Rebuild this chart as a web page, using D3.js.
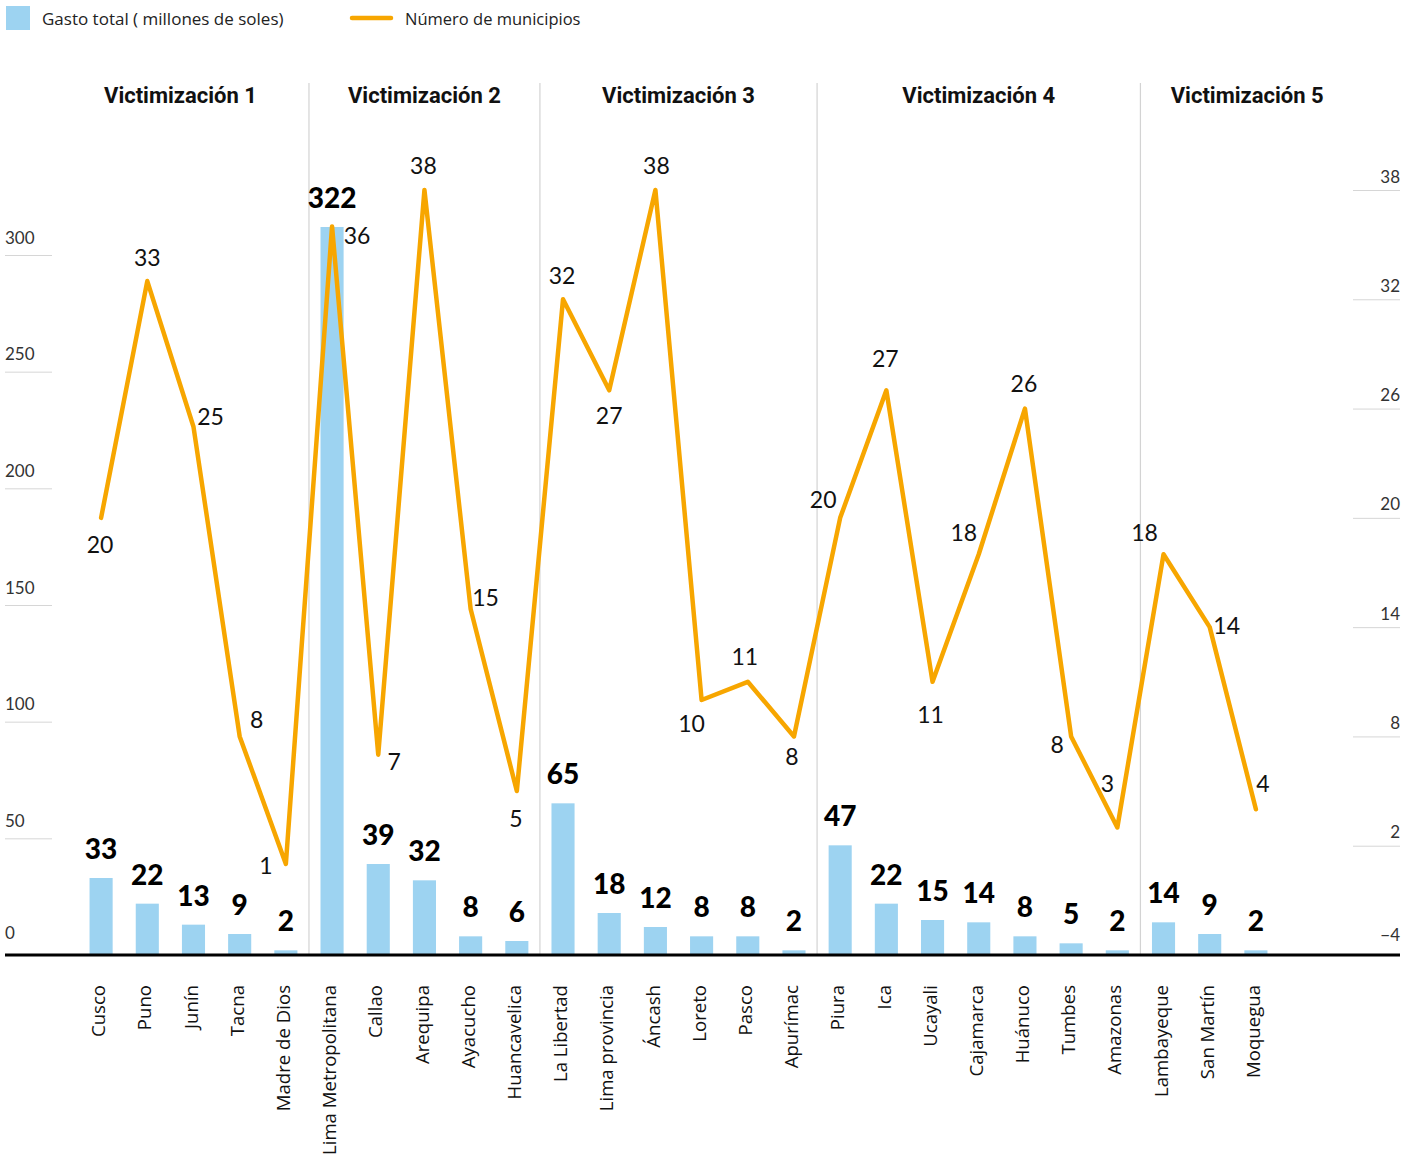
<!DOCTYPE html>
<html>
<head>
<meta charset="utf-8">
<script src="https://cdn.jsdelivr.net/npm/d3@7"></script>
<style>
  html, body { margin: 0; padding: 0; background: #fff; }
  svg { display: block; }
</style>
</head>
<body>
<div id="chart"></div>
<script>
// ---------------- DATA ----------------
const categories = ["Cusco", "Puno", "Junín", "Tacna", "Madre de Dios",
  "Lima Metropolitana", "Callao", "Arequipa", "Ayacucho", "Huancavelica",
  "La Libertad", "Lima provincia", "Áncash", "Loreto", "Pasco", "Apurímac",
  "Piura", "Ica", "Ucayali", "Cajamarca", "Huánuco", "Tumbes", "Amazonas",
  "Lambayeque", "San Martín", "Moquegua"];
const gastoTotal = [33, 22, 13, 9, 2, 322, 39, 32, 8, 6, 65, 18, 12, 8, 8, 2,
  47, 22, 15, 14, 8, 5, 2, 14, 9, 2];
const numeroMunicipios = [20, 33, 25, 8, 1, 36, 7, 38, 15, 5, 32, 27, 38, 10, 11, 8,
  20, 27, 11, 18, 26, 8, 3, 18, 14, 4];
const groupNames = ["Victimización 1", "Victimización 2", "Victimización 3",
  "Victimización 4", "Victimización 5"];
const groupSizes = [5, 5, 6, 7, 3];
const leftTicks = [0, 50, 100, 150, 200, 250, 300];
const rightTicks = [-4, 2, 8, 14, 20, 26, 32, 38];
const legendLabels = ["Gasto total ( millones de soles)", "Número de municipios"];

// ---------------- LAYOUT ----------------
const W = 1418, H = 1158;
const baseY = 955;
const barColor = "#9dd3f1";
const lineColor = "#f7a600";
// label offsets (dx, dy) for line value labels, relative to the point
const lineLabelOffsets = [[-1,27],[0,-23],[17,-10],[17,-16],[-20,2],[25,10],[16,7],
  [-1,-24],[15,-11],[-1,28],[-1,-23],[0,26],[1,-24],[-10,24],[-3,-25],[-2,21],
  [-17,-18],[-1,-31],[-2,33],[-15,-21],[-1,-25],[-14,9],[-10,-44],[-19,-21],[17,-1],[7,-25]];

const svg = d3.select("#chart").append("svg")
  .attr("width", W).attr("height", H);

const x = d3.scaleBand().domain(categories).range([78, 1279])
  .paddingInner(0.5).paddingOuter(0.25);
const yL = d3.scaleLinear().domain([0, 312]).range([baseY, 227]).clamp(true);
const yR = d3.scaleLinear().domain([-4, 38]).range([baseY, 190]);

const numFont = "Lato, 'Noto Sans', sans-serif";
const textFont = "'Open Sans', 'Noto Sans', sans-serif";
const titleFont = "'Liberation Sans Narrow', 'Roboto', sans-serif";

// ---- left axis (gridline stubs + labels) ----
const gL = svg.append("g").attr("transform", "translate(5,0)")
  .call(d3.axisRight(yL).tickValues(leftTicks).tickSize(47).tickFormat(d3.format("d")));
gL.select(".domain").remove();
gL.selectAll(".tick line").attr("stroke", "#d6d6d6").attr("stroke-width", 1)
  .attr("display", d => d === 0 ? "none" : null);
gL.selectAll(".tick text").attr("x", 0).attr("dy", d => d === 0 ? "-17" : "-12")
  .attr("text-anchor", "start").attr("font-family", numFont).attr("font-size", 17)
  .attr("fill", "#333");

// ---- right axis ----
const gR = svg.append("g").attr("transform", "translate(1400,0)")
  .call(d3.axisLeft(yR).tickValues(rightTicks).tickSize(47)
    .tickFormat(d => d < 0 ? "\u2212" + Math.abs(d) : String(d)));
gR.select(".domain").remove();
gR.selectAll(".tick line").attr("stroke", "#d6d6d6").attr("stroke-width", 1)
  .attr("display", d => d === -4 ? "none" : null);
gR.selectAll(".tick text").attr("x", 0).attr("dy", d => d === -4 ? "-15" : "-8")
  .attr("text-anchor", "end").attr("font-family", numFont).attr("font-size", 17)
  .attr("fill", "#333");

// ---- groups: separators and titles ----
let idx = 0;
const bounds = [];
groupSizes.forEach((n, i) => {
  const first = categories[idx], last = categories[idx + n - 1];
  bounds.push([first, last]);
  idx += n;
});
const seps = [];
for (let i = 0; i < bounds.length - 1; i++) {
  const a = x(bounds[i][1]) + x.bandwidth() / 2;
  const b = x(bounds[i + 1][0]) + x.bandwidth() / 2;
  seps.push((a + b) / 2);
}
svg.append("g").selectAll("line").data(seps).join("line")
  .attr("x1", d => d).attr("x2", d => d).attr("y1", 83).attr("y2", baseY)
  .attr("stroke", "#d3d3d3").attr("stroke-width", 1.2);
const edges = [52, ...seps, 1354];
svg.append("g").selectAll("text").data(groupNames).join("text")
  .attr("x", (d, i) => (edges[i] + edges[i + 1]) / 2)
  .attr("y", 103)
  .attr("text-anchor", "middle")
  .attr("font-family", titleFont).attr("font-weight", "bold").attr("font-size", 22)
  .attr("fill", "#111")
  .text(d => d);

// ---- bars ----
svg.append("g").selectAll("rect").data(gastoTotal).join("rect")
  .attr("x", (d, i) => x(categories[i]))
  .attr("width", x.bandwidth())
  .attr("y", d => yL(d))
  .attr("height", d => baseY - yL(d))
  .attr("fill", barColor);

// ---- line ----
const line = d3.line()
  .x((d, i) => x(categories[i]) + x.bandwidth() / 2)
  .y(d => yR(d));
svg.append("path").datum(numeroMunicipios)
  .attr("d", line).attr("fill", "none")
  .attr("stroke", lineColor).attr("stroke-width", 4.5)
  .attr("stroke-linejoin", "round").attr("stroke-linecap", "round");

// ---- bar value labels ----
svg.append("g").selectAll("text").data(gastoTotal).join("text")
  .attr("x", (d, i) => x(categories[i]) + x.bandwidth() / 2)
  .attr("y", d => yL(d) - 19)
  .attr("text-anchor", "middle")
  .attr("font-family", numFont).attr("font-weight", 900).attr("font-size", 28)
  .attr("fill", "#000")
  .text(d => d);

// ---- line value labels ----
svg.append("g").selectAll("text").data(numeroMunicipios).join("text")
  .attr("x", (d, i) => x(categories[i]) + x.bandwidth() / 2 + lineLabelOffsets[i][0])
  .attr("y", (d, i) => yR(d) + lineLabelOffsets[i][1])
  .attr("dy", "0.35em")
  .attr("text-anchor", "middle")
  .attr("font-family", numFont).attr("font-size", 23)
  .attr("fill", "#111")
  .text(d => d);

// ---- baseline ----
svg.append("line").attr("x1", 5).attr("x2", 1400).attr("y1", baseY).attr("y2", baseY)
  .attr("stroke", "#000").attr("stroke-width", 3);

// ---- category axis ----
const gX = svg.append("g").attr("transform", `translate(0,${baseY})`)
  .call(d3.axisBottom(x).tickSize(0));
gX.select(".domain").remove();
gX.selectAll(".tick text")
  .attr("transform", "translate(-2,30) rotate(-90)")
  .attr("x", 0).attr("y", 0).attr("dy", "0.33em")
  .attr("text-anchor", "end")
  .attr("font-family", textFont).attr("font-size", 18.6)
  .attr("fill", "#111");

// ---- legend ----
const lg = svg.append("g");
lg.append("rect").attr("x", 6).attr("y", 6).attr("width", 24).attr("height", 24)
  .attr("fill", barColor);
lg.append("text").attr("x", 42).attr("y", 25)
  .attr("font-family", textFont).attr("font-size", 17).attr("fill", "#222")
  .text(legendLabels[0]);
lg.append("line").attr("x1", 352).attr("x2", 391).attr("y1", 18).attr("y2", 18)
  .attr("stroke", lineColor).attr("stroke-width", 4.5).attr("stroke-linecap", "round");
lg.append("text").attr("x", 405).attr("y", 25)
  .attr("font-family", textFont).attr("font-size", 16.5).attr("fill", "#222")
  .text(legendLabels[1]);
</script>
</body>
</html>
